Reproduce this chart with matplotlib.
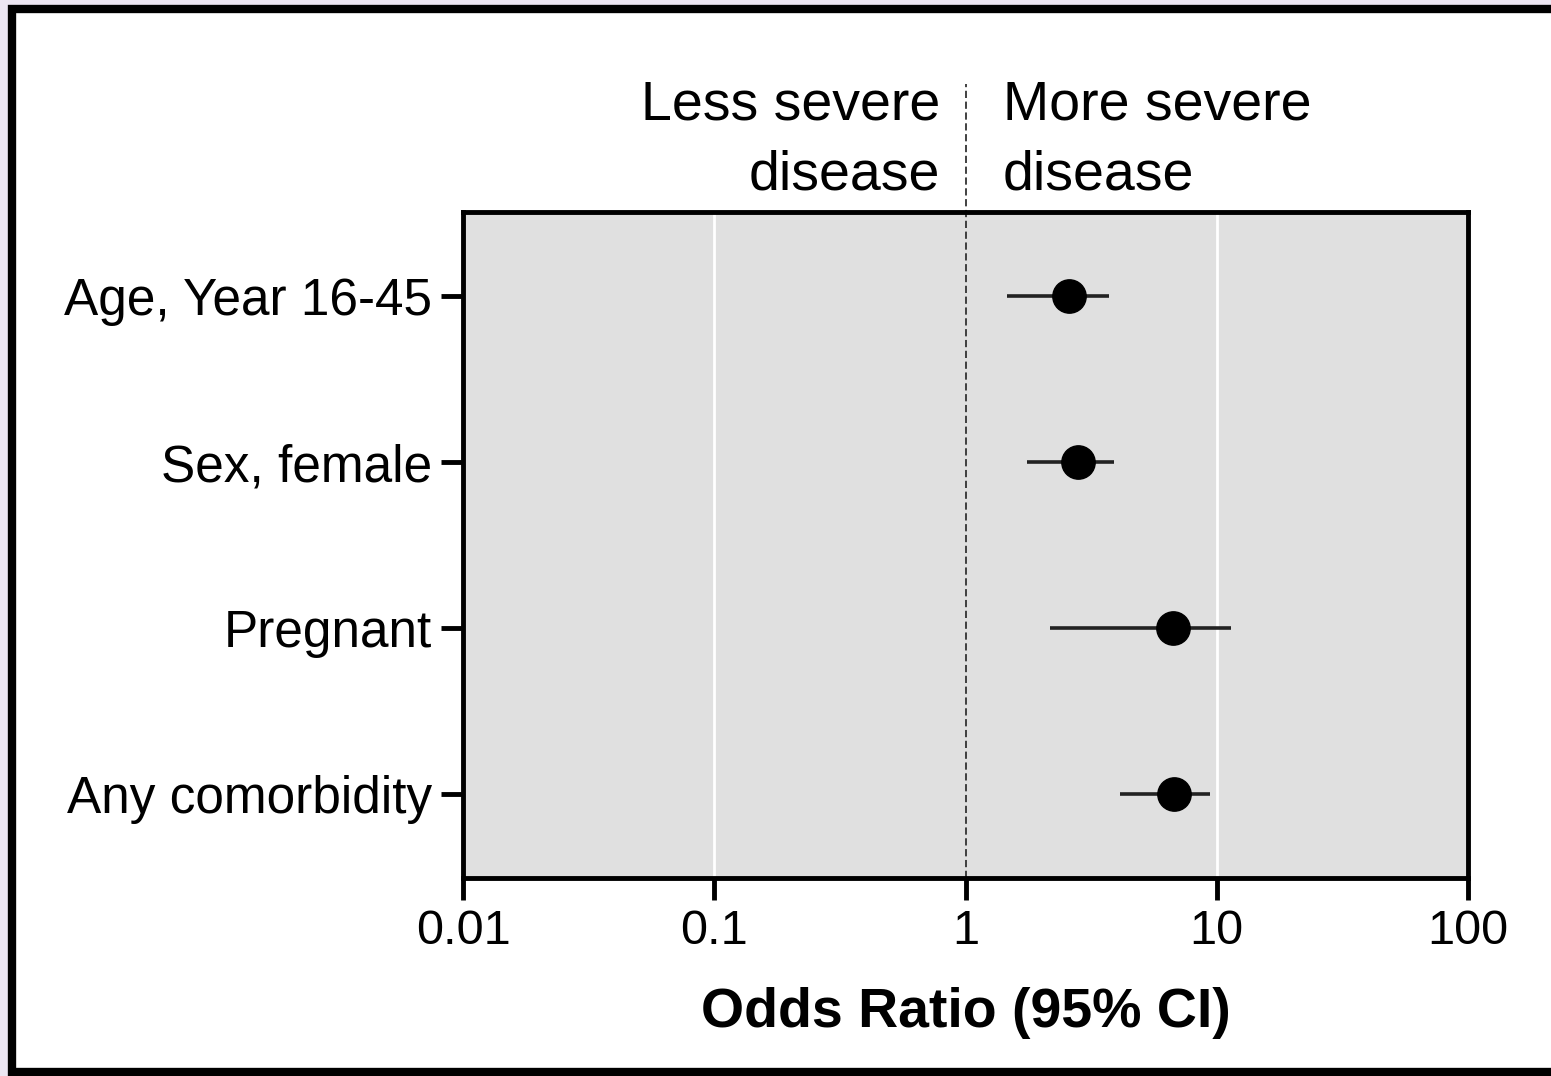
import matplotlib
matplotlib.use("Agg")
import matplotlib.pyplot as plt
from matplotlib.patches import Rectangle

# Data: odds ratios with 95% CI
factors = ["Age, Year 16-45", "Sex, female", "Pregnant", "Any comorbidity"]
odds_ratio = [2.58, 2.80, 6.70, 6.76]
ci_low = [1.46, 1.76, 2.17, 4.12]
ci_high = [3.72, 3.90, 11.4, 9.4]
x_ticks = [0.01, 0.1, 1, 10, 100]
x_ticklabels = ["0.01", "0.1", "1", "10", "100"]

plt.rcParams['font.family'] = ['Liberation Sans', 'DejaVu Sans']

fig = plt.figure(figsize=(15.51, 10.76), dpi=100, facecolor="#ece6f2")

# white panel with black frame (picture border)
fig.patches.append(Rectangle((12 / 1551, 4 / 1076), 1.0, 1 - 13 / 1076,
                             transform=fig.transFigure, facecolor="white",
                             edgecolor="black", linewidth=6, zorder=-10))

ax = fig.add_axes([463 / 1551, 1 - 878 / 1076, (1468 - 463) / 1551, (878 - 212) / 1076])
ax.set_facecolor("#e0e0e0")

ypos = list(range(len(factors)))
xerr = [[o - l for o, l in zip(odds_ratio, ci_low)],
        [h - o for o, h in zip(odds_ratio, ci_high)]]
ax.errorbar(odds_ratio, ypos, xerr=xerr, fmt="o", color="black", ecolor="#222222",
            markersize=24, elinewidth=2.6, capsize=0, zorder=3)

ax.set_xscale("log")
ax.set_xlim(0.01, 100)
ax.set_ylim(3.51, -0.51)
ax.set_xticks(x_ticks)
ax.set_xticklabels(x_ticklabels)
ax.minorticks_off()
ax.set_yticks(ypos)
ax.set_yticklabels(factors)

# white vertical grid lines at 0.1 and 10
for g in [0.1, 10]:
    ax.axvline(g, color="white", linewidth=2, zorder=1)

# dashed reference line at 1 extending above axes
ax.plot([1, 1], [3.51, -1.28], color="#333333", linestyle=(0, (4, 2)), linewidth=1.3,
        clip_on=False, zorder=2)

for side in ["top", "bottom", "left", "right"]:
    ax.spines[side].set_linewidth(3.5)
ax.tick_params(axis="both", length=16, width=3.5, pad=6)
ax.tick_params(axis="y", labelsize=37)
ax.tick_params(axis="x", labelsize=35)

ax.set_xlabel("Odds Ratio (95% CI)", fontsize=40, fontweight="bold", labelpad=24)

ax.text(0.79, -0.643, "Less severe\ndisease", ha="right", va="baseline", fontsize=40,
        linespacing=1.46)
ax.text(1.41, -0.643, "More severe\ndisease", ha="left", va="baseline", fontsize=40,
        linespacing=1.46)

fig.savefig("out.png", dpi=100, facecolor=fig.get_facecolor())
